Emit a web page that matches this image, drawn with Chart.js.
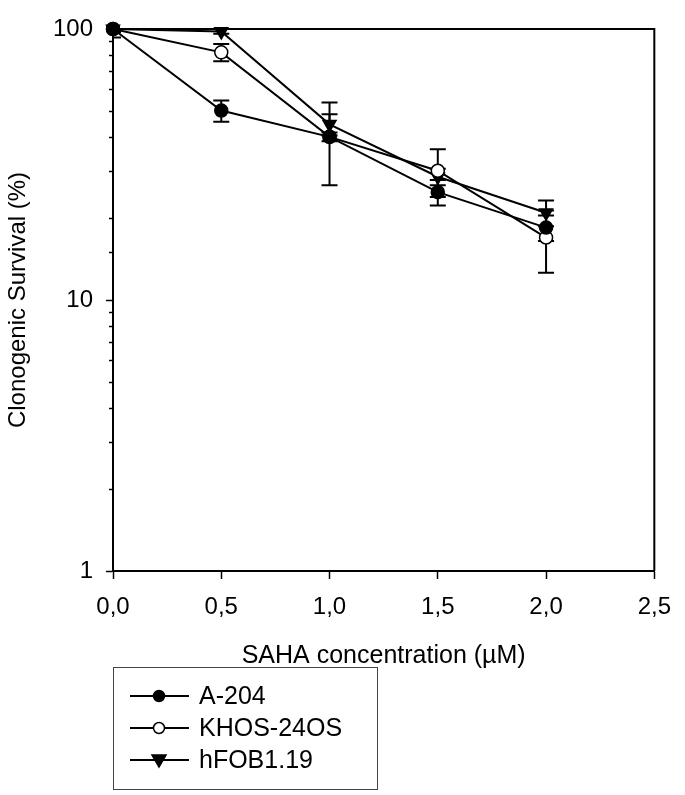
<!DOCTYPE html>
<html>
<head>
<meta charset="utf-8">
<script src="https://cdn.jsdelivr.net/npm/chart.js@4.4.1/dist/chart.umd.min.js"></script>
<style>
  html, body { margin: 0; padding: 0; background: #fff; }
  canvas { display: block; }
</style>
</head>
<body>
<canvas id="chart" width="685" height="795"></canvas>
<script>
// concentraciones de SAHA (µM)
const conc = [0, 0.5, 1.0, 1.5, 2.0];
const seriesNames = ['A-204', 'KHOS-24OS', 'hFOB1.19'];

// supervivencia clonogénica (%) y su error
const a204      = [100, 50, 40, 25, 18.5];
const a204Err   = [3, 4.5, 1.5, 2.7, 2];
const khos      = [100, 82, 40, 30, 17];
const khosErr   = [2, 6, 13.5, 6, 4.4];
const hfob      = [100, 98, 44.5, 28.5, 21];
const hfobErr   = [7, 2, 4, 2, 2.3];

const xTicks = [0, 0.5, 1.0, 1.5, 2.0, 2.5];
const yMajor = [1, 10, 100];

const FONT = 'Arial, "Liberation Sans", sans-serif';

function pts(vals) {
  return conc.map((x, i) => ({ x: x, y: vals[i] }));
}

// dibuja barras de error con tapas
const errorBars = {
  id: 'errorBars',
  beforeDatasetsDraw(chart) {
    const { ctx, chartArea, scales: { x, y } } = chart;
    ctx.save();
    ctx.beginPath();
    ctx.rect(chartArea.left, chartArea.top - 1, chartArea.right - chartArea.left, chartArea.bottom - chartArea.top + 2);
    ctx.clip();
    ctx.strokeStyle = '#000';
    ctx.lineWidth = 2;
    chart.data.datasets.forEach(ds => {
      ds.data.forEach((p, i) => {
        const e = ds.errors[i];
        const px = x.getPixelForValue(p.x);
        const top = y.getPixelForValue(p.y + e);
        const bot = y.getPixelForValue(p.y - e);
        ctx.beginPath();
        ctx.moveTo(px, top); ctx.lineTo(px, bot);
        ctx.moveTo(px - 8, top); ctx.lineTo(px + 8, top);
        ctx.moveTo(px - 8, bot); ctx.lineTo(px + 8, bot);
        ctx.stroke();
      });
    });
    ctx.restore();
  }
};

// marco, ticks menores y leyenda
const frameAndLegend = {
  id: 'frameAndLegend',
  afterDraw(chart) {
    const { ctx, chartArea: a, scales: { y } } = chart;
    ctx.save();
    ctx.strokeStyle = '#000';
    ctx.lineWidth = 2;
    ctx.beginPath();
    ctx.moveTo(a.left, a.top);
    ctx.lineTo(a.right, a.top);
    ctx.lineTo(a.right, a.bottom);
    ctx.stroke();

    // ticks menores del eje log
    ctx.lineWidth = 1.5;
    y.ticks.forEach(t => {
      if (yMajor.includes(t.value)) return;
      const py = Math.round(y.getPixelForValue(t.value)) + 0.5;
      ctx.beginPath();
      ctx.moveTo(a.left - 4, py); ctx.lineTo(a.left, py);
      ctx.stroke();
    });

    // leyenda
    const bx = 113, by = 667, bw = 264, bh = 122;
    ctx.lineWidth = 1;
    ctx.strokeStyle = '#444';
    ctx.strokeRect(bx + 0.5, by + 0.5, bw, bh);
    ctx.font = '25px ' + FONT;
    ctx.textBaseline = 'middle';
    chart.data.datasets.forEach((ds, i) => {
      const ly = 696 + i * 32;
      ctx.strokeStyle = '#000';
      ctx.lineWidth = 1.8;
      ctx.beginPath();
      ctx.moveTo(130, ly); ctx.lineTo(189, ly);
      ctx.stroke();
      ctx.fillStyle = ds.pointBackgroundColor;
      ctx.lineWidth = 1.5;
      ctx.beginPath();
      if (ds.pointStyle === 'circle') {
        ctx.arc(159, ly, 5.5, 0, Math.PI * 2);
      } else {
        ctx.moveTo(152, ly - 5); ctx.lineTo(166, ly - 5); ctx.lineTo(159, ly + 7); ctx.closePath();
      }
      ctx.fill();
      ctx.stroke();
      ctx.fillStyle = '#000';
      ctx.fillText(ds.label, 199, ly + 1);
    });
    ctx.restore();
  }
};

function makeSet(label, vals, errs, style, fill, rot) {
  return {
    label: label,
    data: pts(vals),
    errors: errs,
    borderColor: '#000',
    borderWidth: 2,
    pointStyle: style,
    pointRotation: rot,
    pointRadius: style === 'triangle' ? 7.5 : 6.5,
    pointBackgroundColor: fill,
    pointBorderColor: '#000',
    pointBorderWidth: 1.5,
    tension: 0,
    clip: false
  };
}

new Chart(document.getElementById('chart'), {
  type: 'line',
  data: {
    datasets: [
      makeSet(seriesNames[0], a204, a204Err, 'circle', '#000', 0),
      makeSet(seriesNames[1], khos, khosErr, 'circle', '#fff', 0),
      makeSet(seriesNames[2], hfob, hfobErr, 'triangle', '#000', 180)
    ]
  },
  options: {
    responsive: false,
    animation: false,
    devicePixelRatio: 1,
    layout: { padding: { top: 29, right: 24, bottom: 124, left: 0 } },
    plugins: { legend: { display: false }, tooltip: { enabled: false } },
    scales: {
      x: {
        type: 'linear',
        min: 0, max: 2.5,
        afterBuildTicks: s => { s.ticks = xTicks.map(v => ({ value: v })); },
        afterFit: s => { s.height = 100; },
        ticks: {
          color: '#000',
          font: { size: 24, family: FONT },
          padding: 14,
          maxRotation: 0,
          callback: v => v.toFixed(1).replace('.', ',')
        },
        grid: { drawOnChartArea: false, tickLength: 8, tickColor: '#000', tickWidth: 1.5 },
        border: { color: '#000', width: 2 },
        title: {
          display: true,
          text: 'SAHA concentration (µM)',
          color: '#000',
          font: { size: 25, family: FONT },
          padding: { top: 0, bottom: 0 }
        }
      },
      y: {
        type: 'logarithmic',
        min: 1, max: 100,
        afterFit: s => { s.width = 113; },
        ticks: {
          color: '#000',
          font: { size: 24, family: FONT },
          padding: 13,
          autoSkip: false,
          callback: v => yMajor.includes(v) ? String(v) : ''
        },
        grid: {
          drawOnChartArea: false,
          tickLength: 7,
          tickWidth: 1.5,
          tickColor: c => yMajor.includes(c.tick.value) ? '#000' : 'rgba(0,0,0,0)'
        },
        border: { color: '#000', width: 2 },
        title: {
          display: true,
          text: 'Clonogenic Survival (%)',
          color: '#000',
          font: { size: 24, family: FONT },
          padding: { top: 4, bottom: 0 }
        }
      }
    }
  },
  plugins: [errorBars, frameAndLegend]
});
</script>
</body>
</html>
